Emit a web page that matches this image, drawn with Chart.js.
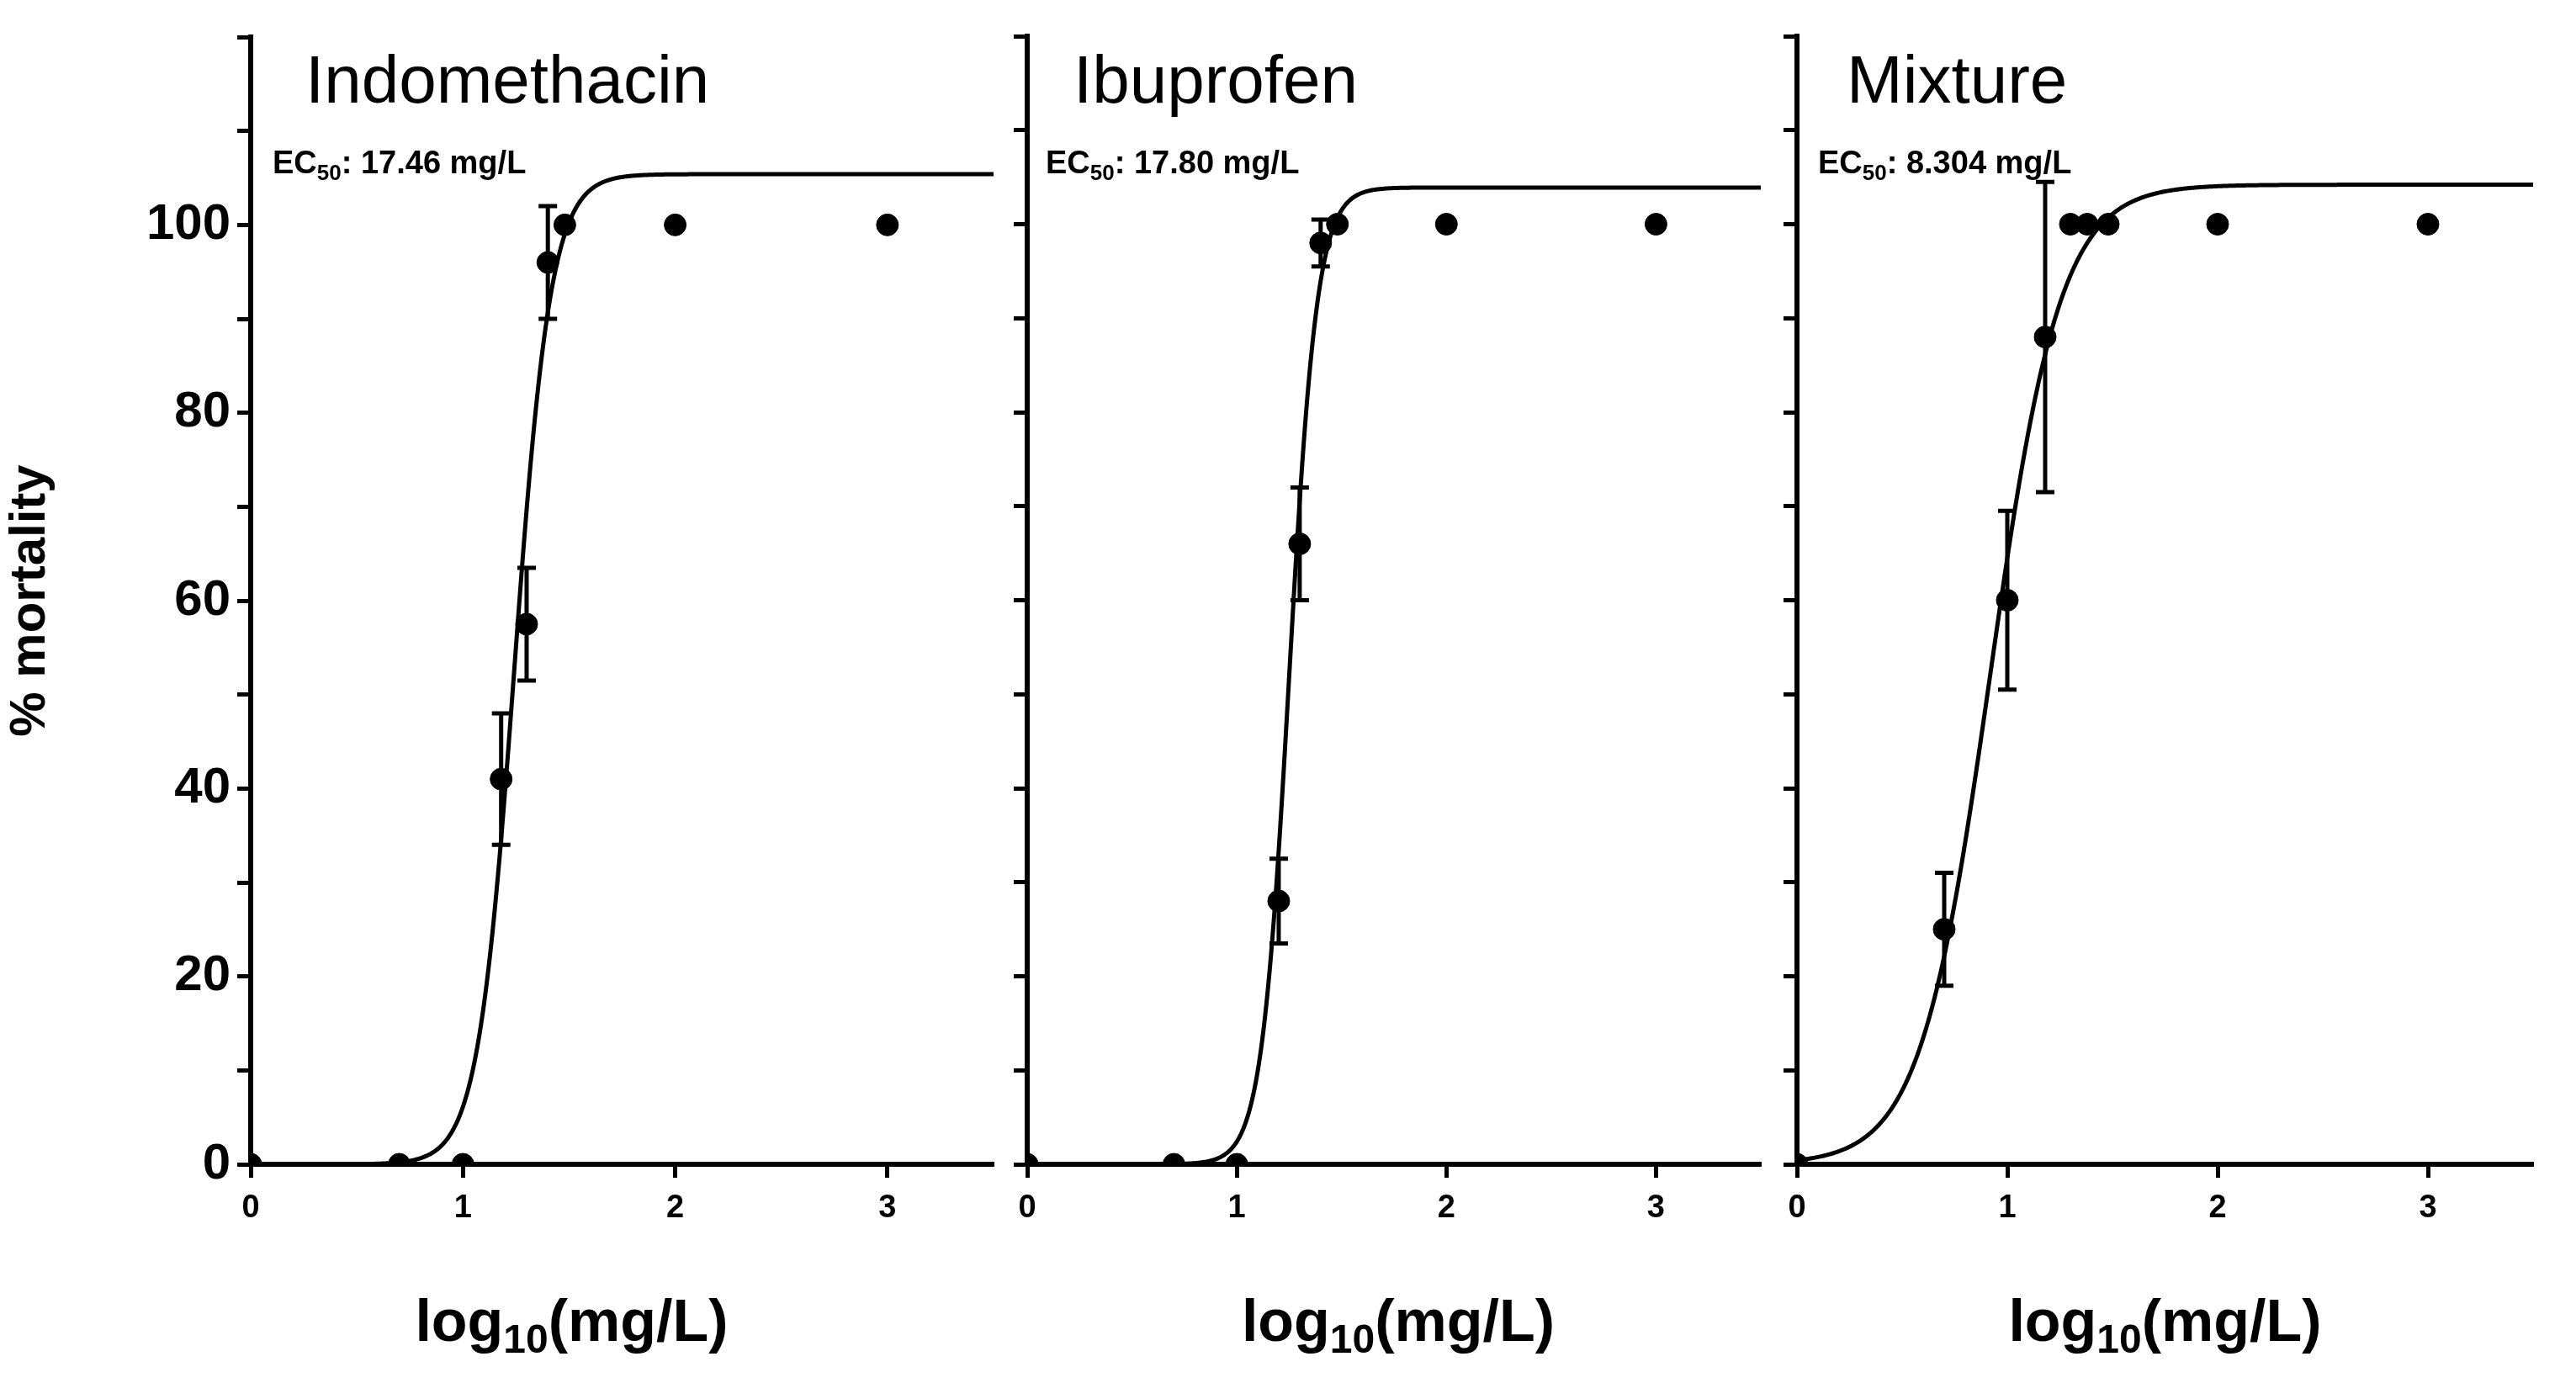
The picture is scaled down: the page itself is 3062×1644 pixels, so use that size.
<!DOCTYPE html>
<html><head><meta charset="utf-8">
<script src="https://cdn.jsdelivr.net/npm/chart.js@4/dist/chart.umd.min.js"></script>
<style>
html,body{margin:0;padding:0;background:#fff;width:3062px;height:1644px;overflow:hidden}
.c{position:absolute;top:0;height:1644px}
</style></head><body>
<div class="c" style="left:0;width:1195px"><canvas id="c0"></canvas></div>
<div class="c" style="left:1195px;width:912px"><canvas id="c1"></canvas></div>
<div class="c" style="left:2110px;width:915px"><canvas id="c2"></canvas></div>
<script>
const panelNames = ["Indomethacin", "Ibuprofen", "Mixture"];
const ec50Labels = ["17.46 mg/L", "17.80 mg/L", "8.304 mg/L"];
const xTicks = [0, 1, 2, 3];
const yTicks = [0, 20, 40, 60, 80, 100];
// measured points (log10 conc, % mortality, SD)
const indoX = [0, 0.7, 1, 1.18, 1.3, 1.4, 1.48, 2, 3];
const indoY = [0, 0, 0, 41, 57.5, 96, 100, 100, 100];
const indoErr = [0, 0, 0, 7, 6, 6, 0, 0, 0];
const ibuX = [0, 0.7, 1, 1.2, 1.3, 1.4, 1.48, 2, 3];
const ibuY = [0, 0, 0, 28, 66, 98, 100, 100, 100];
const ibuErr = [0, 0, 0, 4.5, 6, 2.5, 0, 0, 0];
const mixX = [0, 0.7, 1, 1.18, 1.3, 1.38, 1.48, 2, 3];
const mixY = [0, 25, 60, 88, 100, 100, 100, 100, 100];
const mixErr = [0, 6, 9.5, 16.5, 0, 0, 0, 0, 0];
// fitted 4-parameter logistic curves: [bottom, top, logEC50, hill]
const indoFit = [0, 105.4, 1.242, 5.0];
const ibuFit = [0, 103.9, 1.250, 6.5];
const mixFit = [0, 104.2, 0.919, 2.6];

const panels = [
  {x:indoX,y:indoY,e:indoErr,fit:indoFit},
  {x:ibuX,y:ibuY,e:ibuErr,fit:ibuFit},
  {x:mixX,y:mixY,e:mixErr,fit:mixFit}
];
const FONT = "'Liberation Sans Narrow','Liberation Sans',Arial,sans-serif";

function curve(f){
  const pts=[];
  for(let i=0;i<=700;i++){const x=i*0.005;
    pts.push({x, y: f[0]+(f[1]-f[0])/(1+Math.pow(10,(f[2]-x)*f[3]))});}
  return pts;
}

const overlay = {
  id:'overlay',
  afterDatasetsDraw(chart){
    const ctx=chart.ctx, xs=chart.scales.x, ys=chart.scales.y, p=chart.options.plugins.overlay;
    const pn=panels[p.idx];
    ctx.save();
    ctx.strokeStyle='#000';ctx.lineWidth=5;
    pn.x.forEach((xv,i)=>{ if(!pn.e[i]) return;
      const px=xs.getPixelForValue(xv), t=ys.getPixelForValue(pn.y[i]+pn.e[i]), b=ys.getPixelForValue(pn.y[i]-pn.e[i]);
      ctx.beginPath();ctx.moveTo(px,t);ctx.lineTo(px,b);
      ctx.moveTo(px-11,t);ctx.lineTo(px+11,t);ctx.moveTo(px-11,b);ctx.lineTo(px+11,b);ctx.stroke();});
    ctx.fillStyle='#000';
    const L=chart.chartArea.left;
    ctx.font="400 80px 'Liberation Sans',Arial,sans-serif";ctx.textBaseline='alphabetic';ctx.textAlign='left';
    ctx.fillText(panelNames[p.idx], L+[65,55,59][p.idx], 122);
    let x0=L+[26,22,25][p.idx];
    ctx.font="700 38px "+FONT;ctx.fillText('EC',x0,206);x0+=ctx.measureText('EC').width;
    ctx.font="700 26px "+FONT;ctx.fillText('50',x0,214);x0+=ctx.measureText('50').width;
    ctx.font="700 38px "+FONT;ctx.fillText(': '+ec50Labels[p.idx],x0,206);
    // x axis title with subscript
    const cx=(L+chart.chartArea.right)/2-[60,-5,0][p.idx];
    ctx.font="700 70px "+FONT;const a='log',c='(mg/L)';
    const wa=ctx.measureText(a).width,wc=ctx.measureText(c).width;
    ctx.font="700 48px "+FONT;const wb=ctx.measureText('10').width;
    let sx=cx-(wa+wb+wc)/2;
    ctx.font="700 70px "+FONT;ctx.fillText(a,sx,1594);sx+=wa;
    ctx.font="700 48px "+FONT;ctx.fillText('10',sx,1608);sx+=wb;
    ctx.font="700 70px "+FONT;ctx.fillText(c,sx,1594);
    ctx.restore();
  }
};

panels.forEach((pn,idx)=>{
  const first=idx===0;
  new Chart(document.getElementById('c'+idx),{
    type:'scatter',
    data:{datasets:[
      {data:curve(pn.fit),showLine:true,pointRadius:0,borderColor:'#000',borderWidth:5,fill:false,tension:0},
      {data:pn.x.map((v,i)=>({x:v,y:pn.y[i]})),pointRadius:13,pointHoverRadius:13,backgroundColor:'#000',borderColor:'#000',showLine:false}
    ]},
    options:{
      responsive:true,maintainAspectRatio:false,animation:false,
      layout:{padding:{top:43,right:2,left:0,bottom:0}},
      plugins:{legend:{display:false},tooltip:{enabled:false},overlay:{idx}},
      scales:{
        x:{type:'linear',min:0,max:3.5,
          afterBuildTicks(s){s.ticks=xTicks.map(v=>({value:v}));},
          afterFit(s){s.height=260;},
          border:{color:'#000',width:6},
          grid:{drawOnChartArea:false,drawTicks:true,tickLength:16,tickWidth:5,tickColor:'#000'},
          ticks:{color:'#000',font:{family:FONT,size:38,weight:'bold'},padding:14,maxRotation:0}},
        y:{type:'linear',min:0,max:120,
          afterBuildTicks(s){const t=[];for(let v=0;v<=120;v+=10)t.push({value:v});s.ticks=t;},
          afterFit(s){s.width=first?298:26;},
          border:{color:'#000',width:6},
          grid:{drawOnChartArea:false,drawTicks:true,tickLength:16,tickWidth:5,tickColor:'#000'},
          ticks:{display:first,color:'#000',font:{family:FONT,size:60,weight:'bold'},padding:8,
            callback:v=>yTicks.includes(v)?String(v):''},
          title:{display:first,text:'% mortality',color:'#000',font:{family:FONT,size:60,weight:'bold'},padding:{top:0,bottom:20}}}
      }
    },
    plugins:[overlay]
  });
});
</script></body></html>
